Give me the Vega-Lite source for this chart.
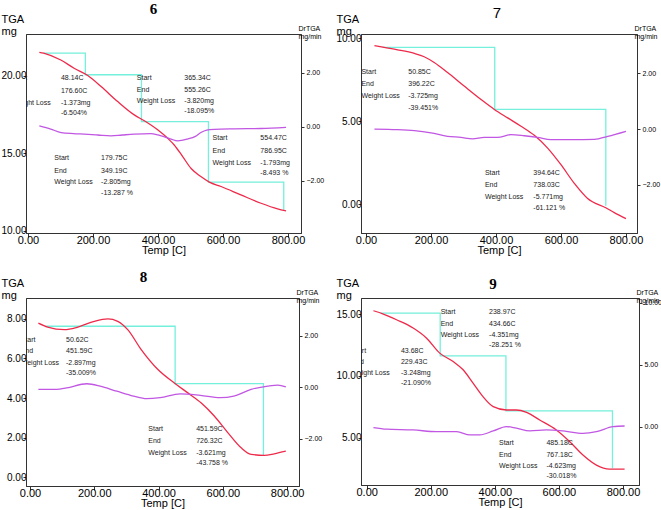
{
"$schema": "https://vega.github.io/schema/vega-lite/v6.json",
"padding": {"left": 0, "top": 1, "right": 0, "bottom": 0},
"background": "white",
"columns": 2,
"spacing": {"column": 60, "row": 65},
"bounds": "flush",
"align": "each",
"datasets": {
"p6t": [{"x":35,"y":21.5},{"x":48,"y":21.44},{"x":101,"y":21.0},{"x":142,"y":20.47},{"x":184,"y":20.0},{"x":225,"y":19.29},{"x":276,"y":18.32},{"x":327,"y":17.46},{"x":358,"y":17.08},{"x":399,"y":16.5},{"x":430,"y":15.95},{"x":450,"y":15.52},{"x":476,"y":14.77},{"x":502,"y":14.0},{"x":532,"y":13.48},{"x":558,"y":13.12},{"x":594,"y":12.84},{"x":655,"y":12.3},{"x":717,"y":11.76},{"x":768,"y":11.4},{"x":794,"y":11.27}],
"p6s": [{"x":48.14,"y":21.44},{"x":176.6,"y":20.05},{"x":349.19,"y":17.02},{"x":555.26,"y":13.12},{"x":786.95,"y":11.27}],
"p6d": [{"x":35,"y":0.04},{"x":70,"y":-0.08},{"x":102,"y":-0.21},{"x":140,"y":-0.25},{"x":173,"y":-0.27},{"x":215,"y":-0.3},{"x":255,"y":-0.33},{"x":290,"y":-0.3},{"x":327,"y":-0.27},{"x":378,"y":-0.25},{"x":400,"y":-0.3},{"x":420,"y":-0.37},{"x":440,"y":-0.45},{"x":461,"y":-0.52},{"x":491,"y":-0.45},{"x":515,"y":-0.35},{"x":532,"y":-0.21},{"x":550,"y":-0.12},{"x":573,"y":-0.09},{"x":635,"y":-0.07},{"x":717,"y":-0.06},{"x":794,"y":-0.02}],
"p6x": [{"x":-48,"y":19.87,"t":"Start"},{"x":101.5,"y":19.87,"t":"48.14C"},{"x":-48,"y":19.03,"t":"End"},{"x":101.5,"y":19.03,"t":"176.60C"},{"x":-48,"y":18.21,"t":"Weight Loss"},{"x":101.5,"y":18.21,"t":"-1.373mg"},{"x":101.5,"y":17.57,"t":"-6.504%"},
{"x":335,"y":19.87,"t":"Start"},{"x":481,"y":19.87,"t":"365.34C"},{"x":335,"y":19.08,"t":"End"},{"x":481,"y":19.08,"t":"555.26C"},{"x":335,"y":18.37,"t":"Weight Loss"},{"x":481,"y":18.37,"t":"-3.820mg"},{"x":481,"y":17.68,"t":"-18.095%"},
{"x":81,"y":14.66,"t":"Start"},{"x":225,"y":14.66,"t":"179.75C"},{"x":81,"y":13.87,"t":"End"},{"x":225,"y":13.87,"t":"349.19C"},{"x":81,"y":13.1,"t":"Weight Loss"},{"x":225,"y":13.1,"t":"-2.805mg"},{"x":225,"y":12.41,"t":"-13.287 %"},
{"x":568,"y":15.95,"t":"Start"},{"x":715,"y":15.95,"t":"554.47C"},{"x":568,"y":15.16,"t":"End"},{"x":715,"y":15.16,"t":"786.95C"},{"x":568,"y":14.37,"t":"Weight Loss"},{"x":715,"y":14.37,"t":"-1.793mg"},{"x":715,"y":13.7,"t":"-8.493 %"}],
"p7t": [{"x":26,"y":9.55},{"x":56,"y":9.44},{"x":97,"y":9.3},{"x":149,"y":9.08},{"x":179,"y":8.88},{"x":210,"y":8.53},{"x":251,"y":7.93},{"x":302,"y":7.12},{"x":354,"y":6.31},{"x":395,"y":5.71},{"x":436,"y":5.2},{"x":477,"y":4.7},{"x":518,"y":4.15},{"x":559,"y":3.38},{"x":600,"y":2.38},{"x":641,"y":1.26},{"x":682,"y":0.35},{"x":738,"y":-0.21},{"x":764,"y":-0.5},{"x":800,"y":-0.86}],
"p7s": [{"x":50.85,"y":9.44},{"x":396.22,"y":5.71},{"x":738.03,"y":-0.09}],
"p7d": [{"x":26,"y":0},{"x":97,"y":-0.02},{"x":149,"y":-0.06},{"x":200,"y":-0.14},{"x":251,"y":-0.26},{"x":292,"y":-0.3},{"x":328,"y":-0.35},{"x":364,"y":-0.3},{"x":405,"y":-0.3},{"x":446,"y":-0.2},{"x":487,"y":-0.24},{"x":528,"y":-0.3},{"x":569,"y":-0.38},{"x":631,"y":-0.38},{"x":703,"y":-0.37},{"x":744,"y":-0.26},{"x":800,"y":-0.08}],
"p7x": [{"x":-14,"y":7.97,"t":"Start"},{"x":130,"y":7.97,"t":"50.85C"},{"x":-14,"y":7.22,"t":"End"},{"x":130,"y":7.22,"t":"396.22C"},{"x":-14,"y":6.52,"t":"Weight Loss"},{"x":130,"y":6.52,"t":"-3.725mg"},{"x":130,"y":5.81,"t":"-39.451%"},
{"x":366,"y":1.87,"t":"Start"},{"x":515,"y":1.87,"t":"394.64C"},{"x":366,"y":1.16,"t":"End"},{"x":515,"y":1.16,"t":"738.03C"},{"x":366,"y":0.45,"t":"Weight Loss"},{"x":515,"y":0.45,"t":"-5.771mg"},{"x":515,"y":-0.21,"t":"-61.121 %"}],
"p8t": [{"x":26,"y":7.79},{"x":55,"y":7.59},{"x":107,"y":7.46},{"x":149,"y":7.59},{"x":200,"y":7.88},{"x":242,"y":8.0},{"x":273,"y":7.88},{"x":304,"y":7.46},{"x":346,"y":6.45},{"x":398,"y":5.44},{"x":449,"y":4.76},{"x":491,"y":4.26},{"x":533,"y":3.75},{"x":574,"y":3.08},{"x":616,"y":2.24},{"x":657,"y":1.48},{"x":688,"y":1.15},{"x":729,"y":1.1},{"x":760,"y":1.18},{"x":796,"y":1.31}],
"p8s": [{"x":50.62,"y":7.63},{"x":451.59,"y":4.73},{"x":726.32,"y":1.1}],
"p8d": [{"x":26,"y":-0.09},{"x":83,"y":-0.09},{"x":114,"y":-0.03},{"x":177,"y":0.13},{"x":218,"y":0.04},{"x":270,"y":-0.16},{"x":322,"y":-0.35},{"x":363,"y":-0.45},{"x":405,"y":-0.41},{"x":467,"y":-0.26},{"x":530,"y":-0.32},{"x":592,"y":-0.41},{"x":634,"y":-0.35},{"x":688,"y":-0.09},{"x":740,"y":0.04},{"x":771,"y":0.08},{"x":796,"y":0.01}],
"p8x": [{"x":-29,"y":6.95,"t":"Start"},{"x":112,"y":6.95,"t":"50.62C"},{"x":-29,"y":6.38,"t":"End"},{"x":112,"y":6.38,"t":"451.59C"},{"x":-29,"y":5.77,"t":"Weight Loss"},{"x":112,"y":5.77,"t":"-2.897mg"},{"x":112,"y":5.27,"t":"-35.009%"},
{"x":368,"y":2.41,"t":"Start"},{"x":517,"y":2.41,"t":"451.59C"},{"x":368,"y":1.82,"t":"End"},{"x":517,"y":1.82,"t":"726.32C"},{"x":368,"y":1.23,"t":"Weight Loss"},{"x":517,"y":1.23,"t":"-3.621mg"},{"x":517,"y":0.72,"t":"-43.758 %"}],
"p9t": [{"x":21,"y":15.27},{"x":52,"y":15.0},{"x":93,"y":14.54},{"x":145,"y":13.87},{"x":187,"y":13.05},{"x":228,"y":11.84},{"x":270,"y":11.16},{"x":301,"y":10.49},{"x":332,"y":9.41},{"x":363,"y":8.32},{"x":395,"y":7.51},{"x":436,"y":7.24},{"x":467,"y":7.24},{"x":499,"y":7.05},{"x":540,"y":6.43},{"x":592,"y":5.62},{"x":634,"y":4.67},{"x":675,"y":3.59},{"x":717,"y":2.78},{"x":758,"y":2.46},{"x":805,"y":2.46}],
"p9s": [{"x":43.68,"y":15.08},{"x":229.43,"y":11.62},{"x":434.66,"y":7.16},{"x":767.18,"y":2.52}],
"p9d": [{"x":21,"y":-0.08},{"x":62,"y":-0.21},{"x":145,"y":-0.27},{"x":218,"y":-0.41},{"x":281,"y":-0.41},{"x":322,"y":-0.67},{"x":353,"y":-0.67},{"x":395,"y":-0.35},{"x":436,"y":0},{"x":467,"y":-0.13},{"x":509,"y":-0.35},{"x":561,"y":-0.27},{"x":613,"y":-0.35},{"x":675,"y":-0.54},{"x":717,"y":-0.41},{"x":769,"y":0},{"x":805,"y":0.05}],
"p9x": [{"x":231,"y":15.16,"t":"Start"},{"x":382,"y":15.16,"t":"238.97C"},{"x":231,"y":14.21,"t":"End"},{"x":382,"y":14.21,"t":"434.66C"},{"x":231,"y":13.32,"t":"Weight Loss"},{"x":382,"y":13.32,"t":"-4.351mg"},{"x":382,"y":12.51,"t":"-28.251 %"},
{"x":-48,"y":12.05,"t":"Start"},{"x":107,"y":12.05,"t":"43.68C"},{"x":-48,"y":11.11,"t":"End"},{"x":107,"y":11.11,"t":"229.43C"},{"x":-48,"y":10.22,"t":"Weight Loss"},{"x":107,"y":10.22,"t":"-3.248mg"},{"x":107,"y":9.41,"t":"-21.090%"},
{"x":413,"y":4.55,"t":"Start"},{"x":561,"y":4.55,"t":"485.18C"},{"x":413,"y":3.6,"t":"End"},{"x":561,"y":3.6,"t":"767.18C"},{"x":413,"y":2.71,"t":"Weight Loss"},{"x":561,"y":2.71,"t":"-4.623mg"},{"x":561,"y":1.93,"t":"-30.018%"}]
},
"concat": [
{
"title": {"text": "6", "dx": -10, "offset": -4},
"width": 275, "height": 199,
"layer": [
{"layer": [
{"data": {"name": "p6s"}, "mark": {"type": "line", "interpolate": "step-after", "color": "#74f0dc", "strokeWidth": 1.3, "clip": true},
"encoding": {
"x": {"field": "x", "type": "quantitative", "scale": {"domain": [-6, 840], "nice": false, "zero": false},
"axis": {"values": [0,100,200,300,400,500,600,700,800], "format": ".2f", "labelExpr": "datum.value % 200 === 0 ? datum.label : ''", "tickSize": {"condition": {"test": "datum.value % 200 === 0", "value": 4}, "value": 2}, "labelOverlap": false, "title": "Temp [C]"}},
"y": {"field": "y", "type": "quantitative", "scale": {"domain": [9.84, 22.68], "nice": false, "zero": false},
"axis": {"values": [10, 15, 20], "format": ".2f", "title": ["TGA", "mg"]}}}},
{"data": {"name": "p6t"}, "mark": {"type": "line", "interpolate": "monotone", "color": "#ee2a4a", "strokeWidth": 1.3, "clip": true},
"encoding": {"x": {"field": "x", "type": "quantitative"}, "y": {"field": "y", "type": "quantitative"}}},
{"data": {"name": "p6x"}, "mark": {"type": "text", "align": "left", "baseline": "middle", "fontSize": 7, "font": "Liberation Sans", "color": "#222", "clip": true},
"encoding": {"x": {"field": "x", "type": "quantitative"}, "y": {"field": "y", "type": "quantitative"}, "text": {"field": "t"}}}
]},
{"data": {"name": "p6d"}, "mark": {"type": "line", "interpolate": "monotone", "color": "#c157e3", "strokeWidth": 1.3, "clip": true},
"encoding": {"x": {"field": "x", "type": "quantitative"},
"y": {"field": "y", "type": "quantitative", "scale": {"domain": [-3.93, 3.44], "nice": false, "zero": false},
"axis": {"orient": "right", "values": [-2, 0, 2], "format": ".2f", "title": ["DrTGA", "mg/min"]}}}}
],
"resolve": {"scale": {"y": "independent"}}
},
{
"title": {"text": "7", "dx": -2, "offset": -8, "fontWeight": "normal", "font": "Liberation Sans"},
"width": 276, "height": 199,
"layer": [
{"layer": [
{"data": {"name": "p7s"}, "mark": {"type": "line", "interpolate": "step-after", "color": "#74f0dc", "strokeWidth": 1.3, "clip": true},
"encoding": {
"x": {"field": "x", "type": "quantitative", "scale": {"domain": [-15.4, 834], "nice": false, "zero": false},
"axis": {"values": [0,100,200,300,400,500,600,700,800], "format": ".2f", "labelExpr": "datum.value % 200 === 0 ? datum.label : ''", "tickSize": {"condition": {"test": "datum.value % 200 === 0", "value": 4}, "value": 2}, "labelOverlap": false, "title": "Temp [C]"}},
"y": {"field": "y", "type": "quantitative", "scale": {"domain": [-1.73, 10.25], "nice": false, "zero": false},
"axis": {"values": [0, 5, 10], "format": ".2f", "title": ["TGA", "mg"]}}}},
{"data": {"name": "p7t"}, "mark": {"type": "line", "interpolate": "monotone", "color": "#ee2a4a", "strokeWidth": 1.3, "clip": true},
"encoding": {"x": {"field": "x", "type": "quantitative"}, "y": {"field": "y", "type": "quantitative"}}},
{"data": {"name": "p7x"}, "mark": {"type": "text", "align": "left", "baseline": "middle", "fontSize": 7, "font": "Liberation Sans", "color": "#222", "clip": true},
"encoding": {"x": {"field": "x", "type": "quantitative"}, "y": {"field": "y", "type": "quantitative"}, "text": {"field": "t"}}}
]},
{"data": {"name": "p7d"}, "mark": {"type": "line", "interpolate": "monotone", "color": "#c157e3", "strokeWidth": 1.3, "clip": true},
"encoding": {"x": {"field": "x", "type": "quantitative"},
"y": {"field": "y", "type": "quantitative", "scale": {"domain": [-3.73, 3.41], "nice": false, "zero": false},
"axis": {"orient": "right", "values": [-2, 0, 2], "format": ".2f", "title": ["DrTGA", "mg/min"]}}}}
],
"resolve": {"scale": {"y": "independent"}}
},
{
"title": {"text": "8", "dx": -19, "offset": -8},
"width": 273, "height": 188,
"layer": [
{"layer": [
{"data": {"name": "p8s"}, "mark": {"type": "line", "interpolate": "step-after", "color": "#74f0dc", "strokeWidth": 1.3, "clip": true},
"encoding": {
"x": {"field": "x", "type": "quantitative", "scale": {"domain": [-12.5, 837], "nice": false, "zero": false},
"axis": {"values": [0,100,200,300,400,500,600,700,800], "format": ".2f", "labelExpr": "datum.value % 200 === 0 ? datum.label : ''", "tickSize": {"condition": {"test": "datum.value % 200 === 0", "value": 4}, "value": 2}, "labelOverlap": false, "title": "Temp [C]"}},
"y": {"field": "y", "type": "quantitative", "scale": {"domain": [-0.45, 9.06], "nice": false, "zero": false},
"axis": {"values": [0, 2, 4, 6, 8], "format": ".2f", "title": ["TGA", "mg"]}}}},
{"data": {"name": "p8t"}, "mark": {"type": "line", "interpolate": "monotone", "color": "#ee2a4a", "strokeWidth": 1.3, "clip": true},
"encoding": {"x": {"field": "x", "type": "quantitative"}, "y": {"field": "y", "type": "quantitative"}}},
{"data": {"name": "p8x"}, "mark": {"type": "text", "align": "left", "baseline": "middle", "fontSize": 7, "font": "Liberation Sans", "color": "#222", "clip": true},
"encoding": {"x": {"field": "x", "type": "quantitative"}, "y": {"field": "y", "type": "quantitative"}, "text": {"field": "t"}}}
]},
{"data": {"name": "p8d"}, "mark": {"type": "line", "interpolate": "monotone", "color": "#c157e3", "strokeWidth": 1.3, "clip": true},
"encoding": {"x": {"field": "x", "type": "quantitative"},
"y": {"field": "y", "type": "quantitative", "scale": {"domain": [-3.84, 3.46], "nice": false, "zero": false},
"axis": {"orient": "right", "values": [-2, 0, 2], "format": ".2f", "title": ["DrTGA", "mg/min"]}}}}
],
"resolve": {"scale": {"y": "independent"}}
},
{
"title": {"text": "9", "dx": -7, "offset": -15},
"width": 278, "height": 187,
"layer": [
{"layer": [
{"data": {"name": "p9s"}, "mark": {"type": "line", "interpolate": "step-after", "color": "#74f0dc", "strokeWidth": 1.3, "clip": true},
"encoding": {
"x": {"field": "x", "type": "quantitative", "scale": {"domain": [-17.8, 850], "nice": false, "zero": false},
"axis": {"values": [0,100,200,300,400,500,600,700,800], "format": ".2f", "labelExpr": "datum.value % 200 === 0 ? datum.label : ''", "tickSize": {"condition": {"test": "datum.value % 200 === 0", "value": 4}, "value": 2}, "labelOverlap": false, "title": "Temp [C]"}},
"y": {"field": "y", "type": "quantitative", "scale": {"domain": [1.17, 16.3], "nice": false, "zero": false},
"axis": {"values": [5, 10, 15], "format": ".2f", "title": ["TGA", "mg"]}}}},
{"data": {"name": "p9t"}, "mark": {"type": "line", "interpolate": "monotone", "color": "#ee2a4a", "strokeWidth": 1.3, "clip": true},
"encoding": {"x": {"field": "x", "type": "quantitative"}, "y": {"field": "y", "type": "quantitative"}}},
{"data": {"name": "p9x"}, "mark": {"type": "text", "align": "left", "baseline": "middle", "fontSize": 7, "font": "Liberation Sans", "color": "#222", "clip": true},
"encoding": {"x": {"field": "x", "type": "quantitative"}, "y": {"field": "y", "type": "quantitative"}, "text": {"field": "t"}}}
]},
{"data": {"name": "p9d"}, "mark": {"type": "line", "interpolate": "monotone", "color": "#c157e3", "strokeWidth": 1.3, "clip": true},
"encoding": {"x": {"field": "x", "type": "quantitative"},
"y": {"field": "y", "type": "quantitative", "scale": {"domain": [-4.72, 10.4], "nice": false, "zero": false},
"axis": {"orient": "right", "values": [0, 5, 10], "format": ".2f", "title": ["DrTGA", "mg/min"]}}}}
],
"resolve": {"scale": {"y": "independent"}}
}
],
"config": {
"view": {"stroke": "#333", "strokeWidth": 1},
"title": {"font": "Liberation Serif", "fontSize": 15, "fontWeight": "bold", "color": "#000", "anchor": "middle"},
"axis": {"grid": false, "domainColor": "#333", "tickColor": "#333", "labelColor": "#000", "titleColor": "#000", "labelFont": "Liberation Sans", "titleFont": "Liberation Sans", "titleFontWeight": "normal"},
"axisX": {"labelFontSize": 11, "labelPadding": -3, "titleFontSize": 11, "titlePadding": -1},
"axisLeft": {"labelFontSize": 10, "labelPadding": -3, "tickSize": 3, "titleFontSize": 11, "titleAngle": 0, "titleAlign": "left", "titleBaseline": "bottom", "titleX": -25, "titleY": -10, "titleLineHeight": 12},
"axisRight": {"labelFontSize": 7, "labelPadding": 2, "tickSize": 3, "titleFontSize": 7, "titleLineHeight": 8, "titleAngle": 0, "titleAlign": "left", "titleBaseline": "bottom", "titleX": -3, "titleY": -3}
}
}
